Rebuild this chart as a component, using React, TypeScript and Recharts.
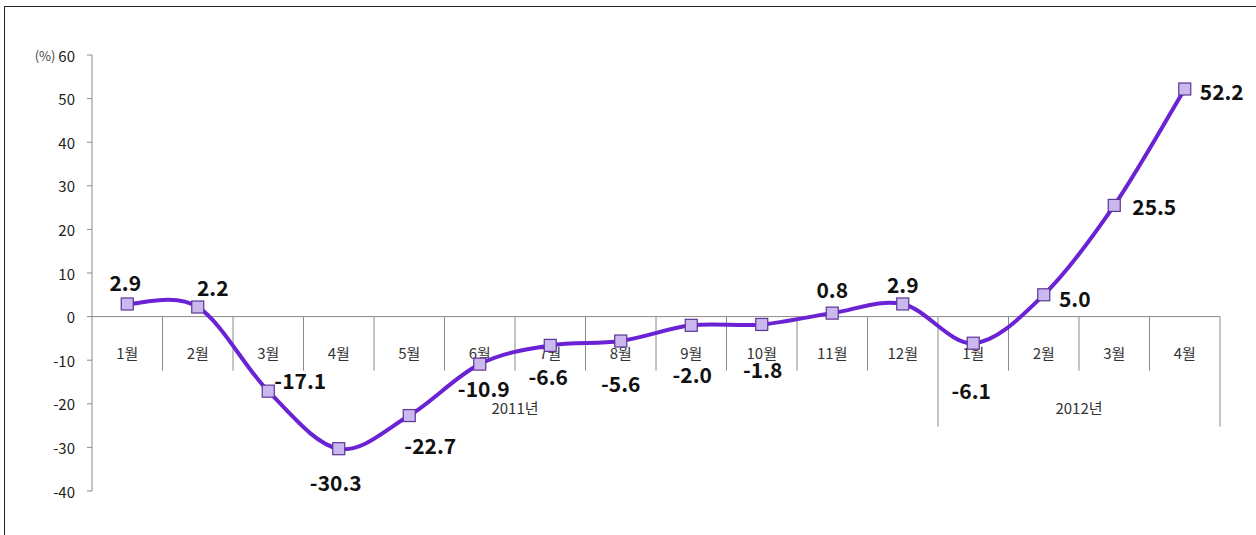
import React from "react";
import {
  LineChart,
  Line,
  XAxis,
  YAxis,
  ReferenceLine,
  LabelList,
} from "recharts";

const months = ["1월", "2월", "3월", "4월", "5월", "6월", "7월", "8월", "9월", "10월", "11월", "12월", "1월", "2월", "3월", "4월"];
const values = [2.9, 2.2, -17.1, -30.3, -22.7, -10.9, -6.6, -5.6, -2.0, -1.8, 0.8, 2.9, -6.1, 5.0, 25.5, 52.2];
const years = ["2011년", "2012년"];
const yearSpans = [12, 4];
const yTicks = [-40, -30, -20, -10, 0, 10, 20, 30, 40, 50, 60];

// where each value label sits relative to its point (label centre offset)
const labelOffsets: [number, number][] = [
  [-2, -22], [15, -20], [32, -11], [-3, 33], [21, 29], [4, 24], [-2, 31], [0, 42],
  [1, 49], [1, 45], [0, -24], [0, -20], [-2, 47], [31, 3], [40, 1], [37, 2],
];

// x is the category slot, so each point lands in the middle of its slot
const data = months.map((m, i) => ({ x: i, month: m, value: values[i] }));

const LINE = "#6a22d4";
const FONT = "'Noto Sans CJK KR', 'Noto Sans', sans-serif";

// Excel-like smoothing (Catmull-Rom as cubic bezier)
function excelCurve(context: any) {
  let pts: [number, number][] = [];
  return {
    areaStart() {},
    areaEnd() {},
    lineStart() {
      pts = [];
    },
    point(x: number, y: number) {
      pts.push([+x, +y]);
    },
    lineEnd() {
      if (!pts.length) return;
      context.moveTo(pts[0][0], pts[0][1]);
      for (let i = 0; i < pts.length - 1; i++) {
        const p0 = pts[Math.max(i - 1, 0)];
        const p1 = pts[i];
        const p2 = pts[i + 1];
        const p3 = pts[Math.min(i + 2, pts.length - 1)];
        context.bezierCurveTo(
          p1[0] + (p2[0] - p0[0]) / 6,
          p1[1] + (p2[1] - p0[1]) / 6,
          p2[0] - (p3[0] - p1[0]) / 6,
          p2[1] - (p3[1] - p1[1]) / 6,
          p2[0],
          p2[1]
        );
      }
    },
  };
}

function YTick({ x, y, payload }: any) {
  return (
    <text x={x} y={y} textAnchor="end" dominantBaseline="central" fontSize={15} fill="#222" fontFamily={FONT}>
      {payload.value === 60 && <tspan fontSize={13} fill="#444">(%) </tspan>}
      {payload.value}
    </text>
  );
}

// zero line with the two-level category axis (months, then years)
function ZeroAxis(props: any) {
  const { x1, x2, y1 } = props;
  if (x1 == null) return null;
  const band = (x2 - x1) / months.length;
  const groupEnds: number[] = [];
  let acc = 0;
  yearSpans.forEach((s) => {
    acc += s;
    groupEnds.push(acc);
  });
  let start = 0;
  return (
    <g>
      <line x1={x1} x2={x2} y1={y1} y2={y1} stroke="#8a8a8a" strokeWidth={1} />
      {months.map((_, i) => {
        const b = i + 1;
        const long = groupEnds.includes(b);
        const bx = x1 + b * band;
        return <line key={"s" + i} x1={bx} x2={bx} y1={y1} y2={y1 + (long ? 110 : 54)} stroke="#8a8a8a" />;
      })}
      {months.map((m, i) => (
        <text key={"m" + i} x={x1 + (i + 0.5) * band} y={y1 + 36} textAnchor="middle" dominantBaseline="central" fontSize={15} fill="#333" fontFamily={FONT}>
          {m}
        </text>
      ))}
      {years.map((yr, i) => {
        const cx = x1 + (start + yearSpans[i] / 2) * band;
        start += yearSpans[i];
        return (
          <text key={"y" + i} x={cx} y={y1 + 91} textAnchor="middle" dominantBaseline="central" fontSize={15} fill="#333" fontFamily={FONT}>
            {yr}
          </text>
        );
      })}
    </g>
  );
}

function SquareDot({ cx, cy, index }: any) {
  return <rect key={"d" + index} x={cx - 6} y={cy - 6} width={12} height={12} fill="#cbb8ee" stroke="#5b3596" strokeWidth={1.2} />;
}

function ValueLabel(props: any) {
  const { x, y, value, index } = props;
  const [dx, dy] = labelOffsets[index] || [0, -20];
  return (
    <text x={x + dx} y={y + dy} textAnchor="middle" dominantBaseline="central" fontSize={21} fontWeight="bold" fill="#111" fontFamily={FONT}>
      {Number(value).toFixed(1)}
    </text>
  );
}

export default function App() {
  return (
    <div style={{ position: "absolute", left: 0, top: 0, width: 1256, height: 535, overflow: "hidden", background: "#fff" }}>
      <div style={{ position: "absolute", left: 4, top: 6, right: -10, bottom: -10, borderLeft: "1px solid #222", borderTop: "1px solid #222" }} />
      <LineChart width={1256} height={535} data={data} margin={{ top: 55, right: 36, bottom: 44, left: 0 }}>
        <XAxis dataKey="x" type="number" domain={[-0.5, months.length - 0.5]} hide />
        <YAxis
          width={92}
          domain={[-40, 60]}
          ticks={yTicks}
          interval={0}
          tick={<YTick />}
          tickSize={5}
          tickMargin={12}
          axisLine={{ stroke: "#8a8a8a" }}
          tickLine={{ stroke: "#8a8a8a" }}
        />
        <ReferenceLine y={0} shape={<ZeroAxis />} />
        <Line
          dataKey="value"
          type={excelCurve as any}
          stroke={LINE}
          strokeWidth={4}
          dot={<SquareDot />}
          activeDot={false}
          isAnimationActive={false}
        >
          <LabelList dataKey="value" content={<ValueLabel />} />
        </Line>
      </LineChart>
    </div>
  );
}
